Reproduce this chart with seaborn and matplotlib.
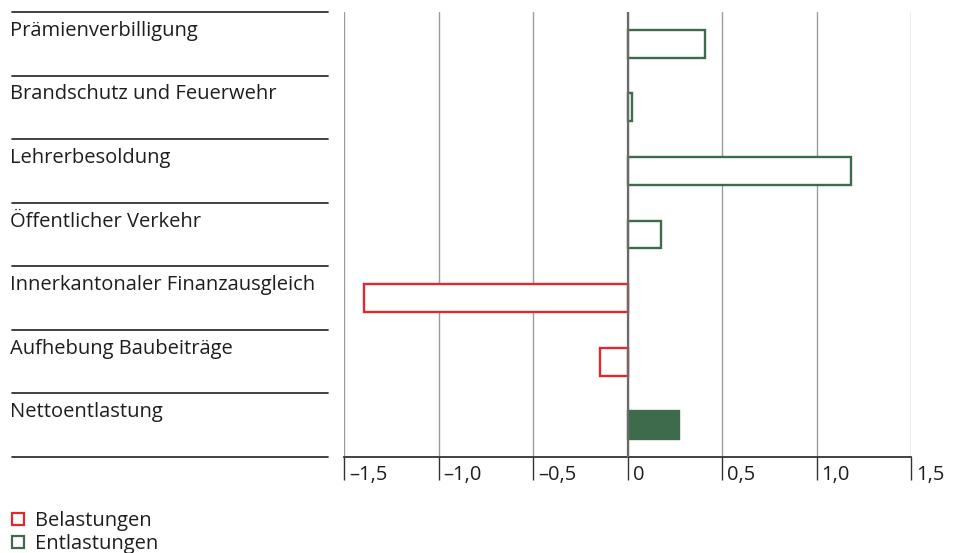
import matplotlib
matplotlib.use("Agg")
import matplotlib.pyplot as plt
import matplotlib.transforms as mtransforms
from matplotlib.lines import Line2D
import seaborn as sns
import pandas as pd

# Budget effects in CHF billions (negative = Belastung, positive = Entlastung)
categories = [
    "Prämienverbilligung",
    "Brandschutz und Feuerwehr",
    "Lehrerbesoldung",
    "Öffentlicher Verkehr",
    "Innerkantonaler Finanzausgleich",
    "Aufhebung Baubeiträge",
    "Nettoentlastung",
]
values = [0.41, 0.025, 1.185, 0.175, -1.395, -0.145, 0.27]
tick_values = [-1.5, -1.0, -0.5, 0, 0.5, 1.0, 1.5]
tick_labels = ["–1,5", "–1,0", "–0,5", "0", "0,5", "1,0", "1,5"]
legend_labels = ["Belastungen", "Entlastungen"]

RED = "#e5262d"
GREEN = "#3e6b4b"
TEXT = "#1e1e1e"
LINE = "#333333"
FS = 14.5

sns.set_theme(style="white")
plt.rcParams["font.family"] = ["Open Sans", "DejaVu Sans"]
plt.rcParams["text.color"] = TEXT

W, H = 963, 553
fig = plt.figure(figsize=(W / 100, H / 100), dpi=100)
ax = fig.add_axes([344 / W, 1 - 457 / H, (911 - 344) / W, (457 - 12) / H])

df = pd.DataFrame({"Kategorie": categories, "Wert": values})
sns.barplot(data=df, x="Wert", y="Kategorie", order=categories, orient="h",
            width=0.44, color="white", ax=ax, zorder=3)

for patch, v, cat in zip(ax.patches, values, categories):
    col = RED if v < 0 else GREEN
    patch.set_edgecolor(col)
    patch.set_linewidth(1.7)
    patch.set_facecolor(GREEN if cat == "Nettoentlastung" else "white")
    patch.set_zorder(3)

ax.set_xlim(-1.5, 1.5)
ax.set_ylim(len(categories) - 0.5, -0.5)
ax.set_xlabel("")
ax.set_ylabel("")
ax.set_yticks([])

# vertical grid
ax.set_xticks(tick_values)
ax.grid(axis="x", color="#9c9c9c", linewidth=1.0, zorder=0)
ax.grid(axis="y", visible=False)
ax.axvline(0, color="#6a6a6a", linewidth=1.6, zorder=4)

for s in ["left", "right", "top"]:
    ax.spines[s].set_visible(False)
ax.spines["bottom"].set_color(LINE)
ax.spines["bottom"].set_linewidth(1.3)

ax.tick_params(axis="x", direction="out", length=16.5, width=1.0, color=LINE,
               pad=-11.0, labelsize=FS, labelcolor=TEXT, bottom=True)
ax.set_xticklabels(tick_labels)
offset = mtransforms.ScaledTranslation(5 / 100, 0, fig.dpi_scale_trans)
for lab in ax.get_xticklabels():
    lab.set_horizontalalignment("left")
    lab.set_verticalalignment("top")
    lab.set_transform(lab.get_transform() + offset)

# row labels and separators on the left
blend = mtransforms.blended_transform_factory(fig.transFigure, ax.transData)
for i, cat in enumerate(categories):
    ax.text(10 / W, i - 0.125, cat, transform=blend, ha="left", va="baseline",
            fontsize=FS, color=TEXT, clip_on=False)
for i in range(len(categories) + 1):
    ax.add_line(Line2D([12 / W, 328 / W], [i - 0.5, i - 0.5], transform=blend,
                       color=LINE, linewidth=1.3, clip_on=False))

handles = [
    Line2D([], [], linestyle="none", marker="s", markersize=8,
           markerfacecolor="white", markeredgecolor=RED, markeredgewidth=1.6),
    Line2D([], [], linestyle="none", marker="s", markersize=8,
           markerfacecolor="white", markeredgecolor=GREEN, markeredgewidth=1.6),
]
fig.legend(handles, legend_labels, loc="upper left",
           bbox_to_anchor=(5 / W, 1 - 507 / H), frameon=False,
           fontsize=FS, handlelength=0.9, handletextpad=0.4,
           labelspacing=0.15, borderpad=0.2, borderaxespad=0)

fig.savefig("out.png", dpi=100)
